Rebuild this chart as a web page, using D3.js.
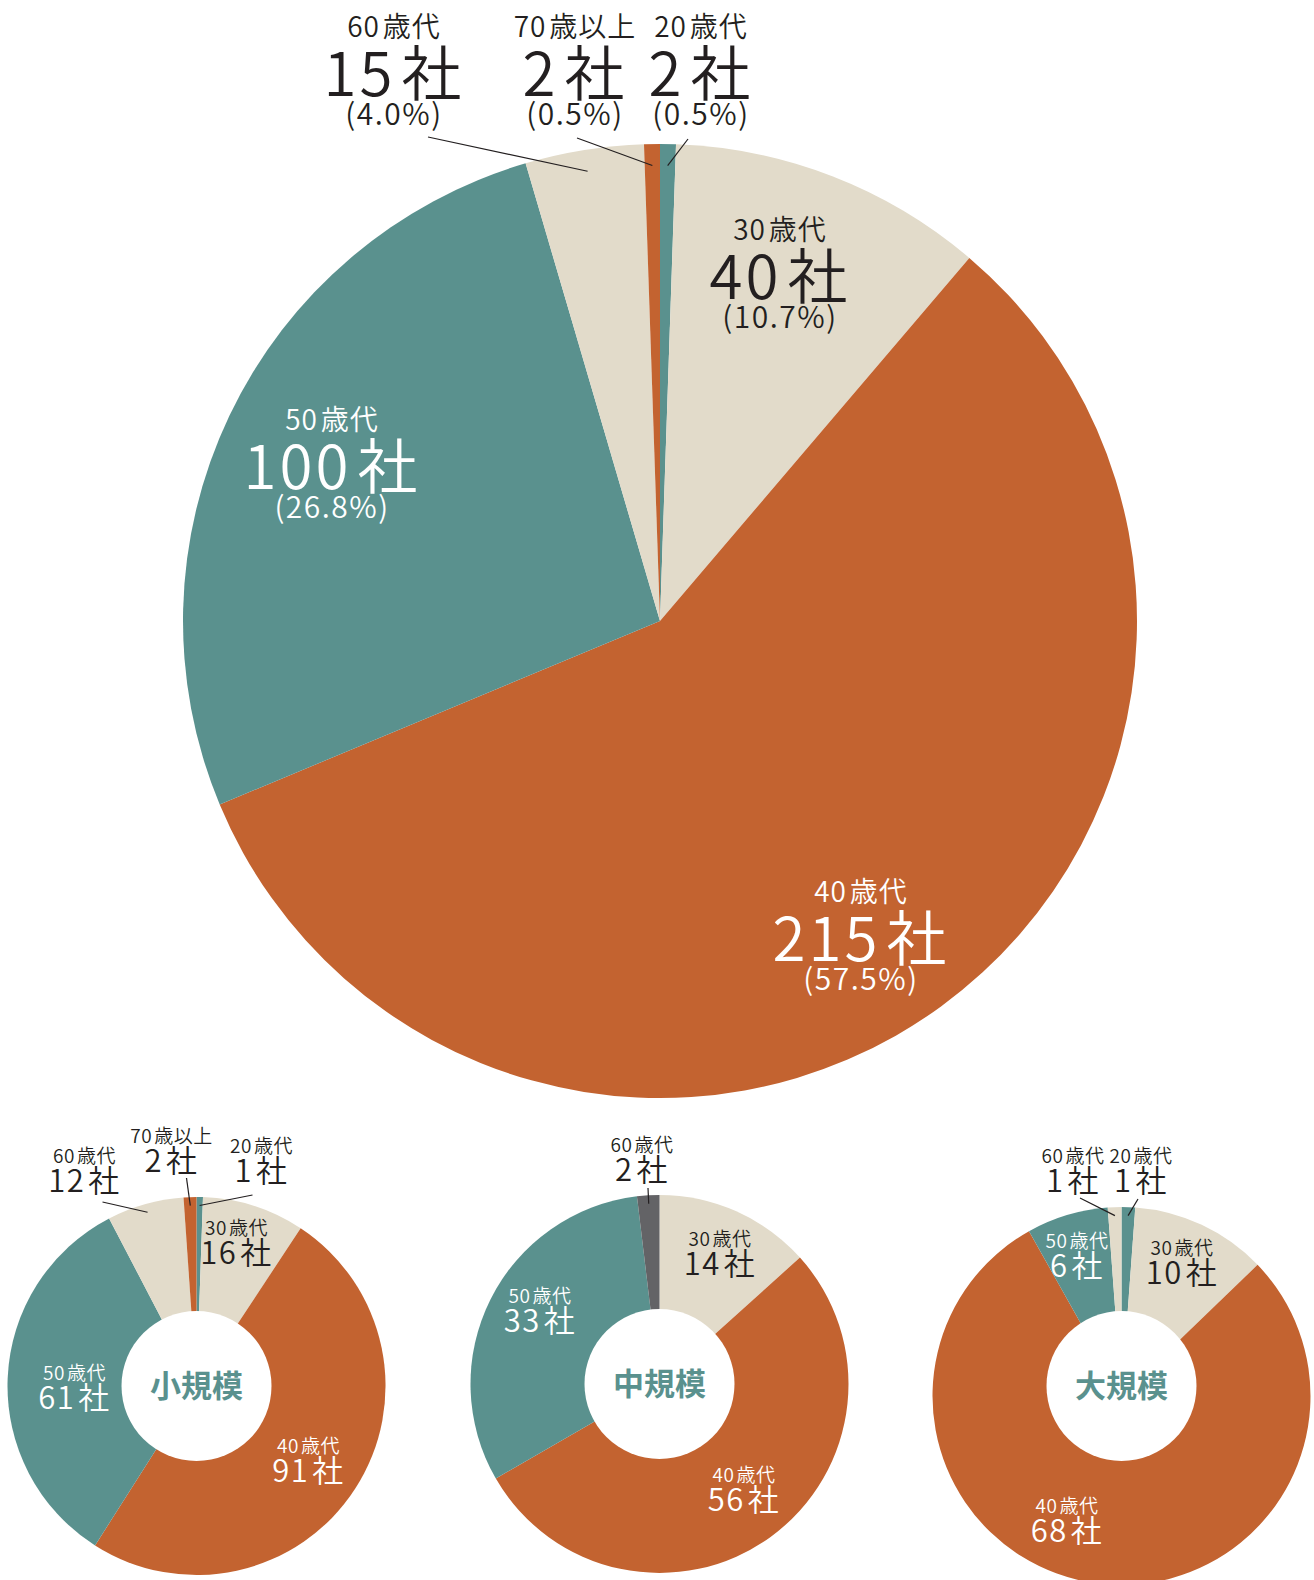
<!DOCTYPE html>
<html lang="ja">
<head>
<meta charset="UTF-8">
<title>代表者の年代別 企業数</title>
<script src="https://d3js.org/d3.v7.min.js"></script>
<style>
  body { margin: 0; background: #fff; }
  svg { display: block; font-family: "Noto Sans CJK JP", "Noto Sans", sans-serif; }
</style>
</head>
<body>
<svg width="1314" height="1580"></svg>
<script>
// data
const ageGroups = ["20歳代", "30歳代", "40歳代", "50歳代", "60歳代", "70歳以上"];
const totalCounts = [2, 40, 215, 100, 15, 2];
const totalPercents = ["0.5", "10.7", "57.5", "26.8", "4.0", "0.5"];
const sizeNames = ["小規模", "中規模", "大規模"];
const smallCounts = [1, 16, 91, 61, 12, 2];
const midCounts = [0, 14, 56, 33, 2, 0];
const largeCounts = [1, 10, 68, 6, 1, 0];

const teal = "#5a918e", orange = "#c36330", beige = "#e2dbca", gray = "#636366", ink = "#231f20";
const ageColor = d3.scaleOrdinal().domain(ageGroups)
    .range([teal, beige, orange, teal, beige, orange]);

// label placement relative to each pie centre: [dx, dy] of the small line baseline,
// optional leader start offset from that point for outside labels
const charts = [
    { counts: totalCounts, pct: totalPercents, cx: 660, cy: 621, r: 477,
      sizes: [28, 60, 30], spacing: [1, 3, 1.5], gap: [59, 88],
      labels: [
        { dx: 41, dy: -584, lead: [-13, 102] },
        { dx: 120, dy: -381 },
        { dx: 201, dy: 281 },
        { dx: -328, dy: -191 },
        { dx: -266, dy: -584, lead: [34, 100] },
        { dx: -85, dy: -584, lead: [2, 101] }
      ] },
    { counts: smallCounts, name: sizeNames[0], cx: 196.5, cy: 1386, r: 189, hole: 75,
      sizes: [19, 31], spacing: [0.5, 1.5], gap: [29],
      labels: [
        { dx: 65, dy: -233, lead: [-9, 42] },
        { dx: 40, dy: -151 },
        { dx: 112, dy: 67 },
        { dx: -122, dy: -6 },
        { dx: -112, dy: -223, lead: [18, 39] },
        { dx: -25, dy: -243, lead: [15, 35] }
      ] },
    { counts: midCounts, name: sizeNames[1], cx: 659.5, cy: 1384, r: 189, hole: 75,
      sizes: [19, 31], spacing: [0.5, 1.5], gap: [29],
      override: { 4: gray },
      labels: [
        null,
        { dx: 60.5, dy: -138 },
        { dx: 84.5, dy: 98 },
        { dx: -119.5, dy: -81 },
        { dx: -17.5, dy: -232, lead: [6, 36] },
        null
      ] },
    { counts: largeCounts, name: sizeNames[2], cx: 1121.5, cy: 1396, r: 189, hole: 75, holeShift: -10,
      sizes: [19, 31], spacing: [0.5, 1.5], gap: [29],
      labels: [
        { dx: 19.5, dy: -233, lead: [-3, 36] },
        { dx: 60.5, dy: -141 },
        { dx: -54.5, dy: 117 },
        { dx: -44.5, dy: -148 },
        { dx: -48.5, dy: -233, lead: [7, 35] },
        null
      ] }
];

const svg = d3.select("svg");
const pie = d3.pie().sort(null).value(d => d.count);

function textLine(g, x, y, parts, size, spacing, fill) {
    const t = g.append("text")
        .attr("x", x).attr("y", y)
        .attr("text-anchor", "middle")
        .attr("font-size", size)
        .attr("font-weight", 350)
        .attr("letter-spacing", spacing)
        .attr("fill", fill);
    parts.forEach((p, i) => t.append("tspan").attr("dx", i ? size * 0.1 : 0).text(p));
}

charts.forEach(c => {
    const rows = ageGroups.map((a, i) => ({ age: a, count: c.counts[i], idx: i }));
    const arcs = pie(rows);
    const g = svg.append("g").attr("transform", `translate(${c.cx},${c.cy})`);
    const arc = d3.arc().innerRadius(0).outerRadius(c.r);
    const tip = d3.arc().innerRadius(c.r * 0.955).outerRadius(c.r * 0.955);

    const colorOf = d => (c.override && c.override[d.data.idx]) || ageColor(d.data.age);

    g.selectAll("path.slice")
        .data(arcs.filter(d => d.data.count > 0))
        .join("path")
        .attr("class", "slice")
        .attr("d", arc)
        .attr("fill", colorOf);

    if (c.hole) {
        g.append("circle")
            .attr("cx", 0).attr("cy", c.holeShift || 0)
            .attr("r", c.hole).attr("fill", "#fff");
        g.append("text")
            .attr("x", 0).attr("y", c.holeShift || 0)
            .attr("dy", "0.36em")
            .attr("text-anchor", "middle")
            .attr("font-size", 31)
            .attr("font-weight", 700)
            .attr("fill", teal)
            .text(c.name);
    }

    arcs.forEach(d => {
        const lab = c.labels[d.data.idx];
        if (!lab || d.data.count === 0) return;
        const fill = lab.lead ? ink : (colorOf(d) === beige ? ink : "#fff");
        const age = d.data.age;
        const num = age.match(/^\d+/)[0];
        textLine(g, lab.dx, lab.dy, [num, age.slice(num.length)], c.sizes[0], c.spacing[0], fill);
        textLine(g, lab.dx, lab.dy + c.gap[0], [String(d.data.count), "社"], c.sizes[1], c.spacing[1], fill);
        if (c.pct) {
            textLine(g, lab.dx, lab.dy + c.gap[1], ["(" + c.pct[d.data.idx] + "%)"], c.sizes[2], c.spacing[2], fill);
        }
        if (lab.lead) {
            const [ex, ey] = tip.centroid(d);
            g.append("line")
                .attr("x1", lab.dx + lab.lead[0]).attr("y1", lab.dy + lab.lead[1])
                .attr("x2", ex).attr("y2", ey)
                .attr("stroke", ink).attr("stroke-width", 1.2);
        }
    });
});
</script>
</body>
</html>
